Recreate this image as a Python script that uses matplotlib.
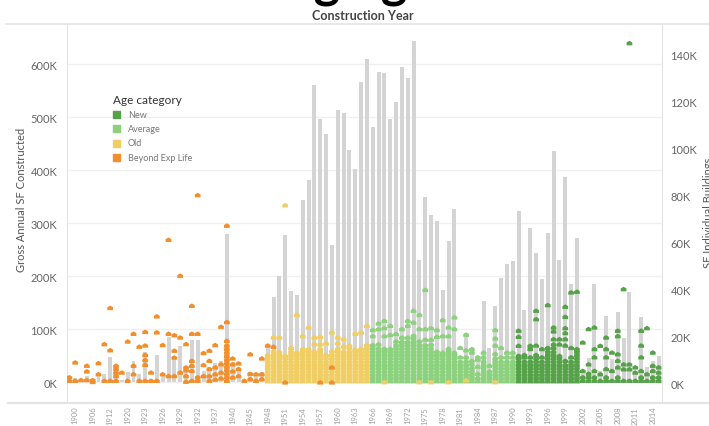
import matplotlib
matplotlib.use('Agg')
import matplotlib.pyplot as plt
from matplotlib.path import Path
from matplotlib.patches import Rectangle
from matplotlib.lines import Line2D
import numpy as np

plt.rcParams['font.family'] = ['Lato', 'DejaVu Sans']

# categorias del eje x (años presentes en los datos)
years = ([1895, 1900, 1902, 1904, 1906, 1908, 1910, 1912, 1915, 1917]
         + list(range(1920, 1933)) + [1934, 1935, 1937, 1938, 1939, 1940, 1941, 1942]
         + list(range(1945, 2016)))

# SF bruto anual construido (miles), eje izquierdo
gross_sf = [8, 7, 5, 12, 4, 15, 15, 47, 28, 4,
            18, 39, 15, 56, 5, 51, 12, 84, 46, 68,
            30, 80, 80, 20, 28, 35, 40, 279, 38, 20,
            5, 18, 16, 18, 69, 160, 200, 277, 172, 164,
            343, 382, 560, 497, 468, 258, 514, 507, 438, 402,
            567, 609, 482, 584, 583, 496, 529, 594, 573, 644,
            230, 350, 316, 304, 174, 267, 326, 15, 92, 62,
            48, 152, 65, 143, 196, 223, 228, 323, 136, 290,
            244, 194, 282, 435, 230, 386, 185, 271, 21, 46,
            184, 21, 125, 43, 133, 83, 170, 21, 123, 28,
            40, 50]

# SF de edificios individuales (miles), eje derecho, una lista por año
building_sf = [
    [1, 2.5], [1, 8.8], [1.3], [1.3, 5, 7.4], [0.5, 1.3],
    [3.8, 8.5], [1, 16.6], [1, 14, 32], [1, 3, 4.5, 6, 7.4], [4.5],
    [1, 17.7], [3.8, 7.4, 21], [1, 15.5], [1, 7.8, 9.8, 12, 16, 21.8], [1, 4.5],
    [1, 21.6, 28.4], [3.8, 16.2], [3, 21, 61], [3, 10.9, 13.8, 20.4], [4.5, 19.4, 45.7],
    [0.6, 3, 5.5, 6.7, 16.6], [1, 5.2, 7.4, 9.5, 21, 32.9], [1, 2.5, 21, 80], [3, 7.7, 12.8],
    [1, 3, 6, 9.5, 13.8], [1.5, 3.8, 6.7, 16.2], [2, 4.5, 8, 24],
    [1, 2.5, 4, 5.5, 7, 8.5, 10, 11.5, 13, 14.5, 16, 18, 26, 67],
    [2.4, 5, 8, 10.5], [3, 6, 8.4], [1], [1.7, 4, 12.3], [1, 3.8], [1.7, 3.8, 10.5],
    # 1948 - 1965
    [0.8, 2.2, 3.6, 5, 6.4, 7.8, 9.2, 10.6, 12],
    [0.8, 2.2, 3.6, 5, 6.4, 7.8, 9.2, 10.6, 12, 13.5, 19.5],
    [0.8, 2.2, 3.6, 5, 6.4, 7.8, 9.2, 10.6, 12, 13.2, 19.4],
    [0.8, 2.2, 3.6, 5, 6.4, 7.8, 9.2, 10.6, 11.6, 75.7],
    [0.8, 2.2, 3.6, 5, 6.4, 7.8, 9.2, 10.6, 12, 13.4, 15],
    [0.8, 2.2, 3.6, 5, 6.4, 7.8, 9.2, 10.6, 12, 13, 29],
    [0.8, 2.2, 3.6, 5, 6.4, 7.8, 9.2, 10.6, 12, 13.4, 14.5, 20],
    [0.8, 2.2, 3.6, 5, 6.4, 7.8, 9.2, 10.6, 12, 13.4, 14.5, 23.7],
    [0.8, 2.2, 3.6, 5, 6.4, 7.8, 9.2, 10.6, 12, 13.4, 16.6, 19.4],
    [0.8, 2.2, 3.6, 5, 6.4, 7.8, 9.2, 10.6, 12, 13.4, 14.5, 16.5, 19.7],
    [0.8, 2.2, 3.6, 5, 6.4, 7.8, 9.2, 10.6, 12, 16.9],
    [0.8, 2.2, 3.6, 5, 6.4, 7.8, 9.2, 10.6, 12, 13.6, 21.6],
    [0.8, 2.2, 3.6, 5, 6.4, 7.8, 9.2, 10.6, 12, 13.4, 14.6, 17, 19.4],
    [0.8, 2.2, 3.6, 5, 6.4, 7.8, 9.2, 10.6, 12, 13.4, 15.6, 18.7],
    [0.8, 2.2, 3.6, 5, 6.4, 7.8, 9.2, 10.6, 12, 13.4, 15, 16],
    [0.8, 2.2, 3.6, 5, 6.4, 7.8, 9.2, 10.6, 12, 13.4, 14.2, 21],
    [0.8, 2.2, 3.6, 5, 6.4, 7.8, 9.2, 10.6, 12, 13.4, 14.6, 21.6],
    [0.8, 2.2, 3.6, 5, 6.4, 7.8, 9.2, 10.6, 12, 13.4, 14.8, 16.2, 24.4],
    # 1966 - 1990
    [0.8, 2.2, 3.6, 5, 6.4, 7.8, 9.2, 10.6, 12, 13.4, 14.8, 16.2, 20, 22.6],
    [0.8, 2.2, 3.6, 5, 6.4, 7.8, 9.2, 10.6, 12, 13.4, 14.8, 16.5, 23, 25.4],
    [0.8, 2.2, 3.6, 5, 6.4, 7.8, 9.2, 10.6, 12, 13.4, 14.6, 20, 23.4, 26.5],
    [0.8, 2.2, 3.6, 5, 6.4, 7.8, 9.2, 10.6, 12, 13.4, 14.6, 20.5, 24.4],
    [0.8, 2.2, 3.6, 5, 6.4, 7.8, 9.2, 10.6, 12, 13.4, 14.8, 16.2, 17.8, 20.9],
    [0.8, 2.2, 3.6, 5, 6.4, 7.8, 9.2, 10.6, 12, 13.4, 14.8, 16.2, 17.6, 19.4, 23],
    [0.8, 2.2, 3.6, 5, 6.4, 7.8, 9.2, 10.6, 12, 13.4, 14.8, 16.2, 17.6, 19.4, 24.4, 26.5],
    [0.8, 2.2, 3.6, 5, 6.4, 7.8, 9.2, 10.6, 12, 13.4, 14.8, 16.2, 17.6, 19, 20.2, 25.8, 30.8],
    [0.8, 2.2, 3.6, 5, 6.4, 7.8, 9.2, 10.6, 12, 13.4, 14.8, 16.2, 17.8, 23, 29],
    [0.8, 2.2, 3.6, 5, 6.4, 7.8, 9.2, 10.6, 12, 13.4, 14.8, 16.2, 18.5, 23, 39.7],
    [0.8, 2.2, 3.6, 5, 6.4, 7.8, 9.2, 10.6, 12, 13.4, 14.8, 16.4, 18.5, 23.4],
    [0.8, 2.2, 3.6, 5, 6.4, 7.8, 9.2, 10.6, 12, 13.4, 19.7, 22.6],
    [0.8, 2.2, 3.6, 5, 6.4, 7.8, 9.2, 10.6, 12, 13, 20, 26.8],
    [0.8, 2.2, 3.6, 5, 6.4, 7.8, 9.2, 10.6, 12, 13.4, 14.6, 20, 23.7],
    [0.8, 2.2, 3.6, 5, 6.4, 7.8, 9.2, 10.6, 12, 13, 23, 28],
    [0.8, 2.2, 3.6, 5, 6.4, 7.8, 9.2, 11, 15],
    [0.8, 2.2, 3.6, 5, 6.4, 7.8, 9.2, 11, 14, 20.6],
    [0.8, 2.2, 3.6, 5, 6.4, 8, 9.5, 13, 14.5],
    [0.8, 2.2, 4, 7, 10, 11],
    [0.8, 2.2, 3.6, 5, 6.4, 7.8, 9.2, 11, 13],
    [0.8, 2.2, 3.6, 5, 7.4],
    [0.8, 2.2, 3.6, 5, 6.4, 7.8, 9.2, 10.6, 12.5, 16, 19, 22.6],
    [0.8, 2.2, 3.6, 5, 6.4, 7.8, 9.2, 11, 15],
    [0.8, 2.2, 3.6, 5, 6.4, 7.8, 9.2, 11, 13],
    [0.8, 2.2, 3.6, 5, 6.4, 7.8, 9.2, 11, 13],
    # 1991 - 2015
    [0.8, 2.2, 3.6, 5, 6.4, 7.8, 9.2, 10.6, 11.6, 15.9, 19.7, 22.3],
    [0.8, 2.2, 3.6, 5, 6.4, 7.8, 9.2, 11, 12],
    [0.8, 2.2, 3.6, 5, 6.4, 7.8, 9.2, 11, 14.5, 15.9],
    [0.8, 2.2, 3.6, 5, 6.4, 7.8, 9.2, 10.6, 12, 16, 27.2, 30.8],
    [0.8, 2.2, 3.6, 5, 6.4, 7.8, 9.2, 11, 14.5],
    [0.8, 2.2, 3.6, 5, 6.4, 7.8, 9.2, 10.6, 12, 13.4, 15, 33.2],
    [0.8, 2.2, 3.6, 5, 6.4, 7.8, 9.2, 10.6, 12, 13.4, 15, 16.5, 18.7, 22, 23.7],
    [0.8, 2.2, 3.6, 5, 6.4, 7.8, 9.2, 10.6, 11.6, 16.5, 18.7],
    [0.8, 2.2, 3.6, 5, 6.4, 7.8, 9.5, 16, 18.7, 21.3, 23.4, 28.2, 32.5],
    [0.8, 2.2, 3.6, 5, 6.4, 7.8, 9.2, 11, 15, 38.6],
    [0.8, 2.2, 3.6, 5, 6.4, 7.8, 9.2, 10.6, 12, 13.4, 14.5, 38.9],
    [1, 2.5, 5.2, 17.3], [1, 2.5, 4, 8, 23], [1, 2.5, 5.2, 11, 14.5, 23.7],
    [1, 3.8, 15.9], [1, 2.5, 6, 11, 14.5, 19.4], [1, 5.2, 13],
    [1, 2.5, 6.7, 9.5, 12.3, 20, 22.3], [1, 5.9, 8, 40], [1, 5.9, 8, 144.7],
    [1, 4.5, 6.7], [1, 2.5, 5.2, 11, 16, 22.3], [1, 3.8, 23.4],
    [1, 2.5, 5.2, 7.4, 13], [1, 2.5, 4.5, 6.7],
]

# edificios cuya categoria no coincide con la de su año
mixed_years = [1948, 1949, 1951, 1957, 1959, 1959, 1968, 1974, 1976, 1979, 1982, 1987]
mixed_sf = [16, 15.5, 0.3, 0.3, 0.3, 6.7, 0.4, 0.4, 0.4, 0.4, 1.2, 0.4]
mixed_cat = ['Beyond Exp Life'] * 6 + ['Old'] * 6

categories = ['New', 'Average', 'Old', 'Beyond Exp Life']
colors = {'New': '#55a249', 'Average': '#8cd17d', 'Old': '#f1ce63',
          'Beyond Exp Life': '#f28e2b'}


def age_category(y):
    if y <= 1947:
        return 'Beyond Exp Life'
    if y <= 1965:
        return 'Old'
    if y <= 1990:
        return 'Average'
    return 'New'


# marcador con forma de casita
house = Path([(-1, -0.8), (1, -0.8), (1, 0.2), (0, 0.8), (-1, 0.2), (-1, -0.8)],
             [Path.MOVETO, Path.LINETO, Path.LINETO, Path.LINETO, Path.LINETO, Path.CLOSEPOLY])

W, H = 709, 427
fig = plt.figure(figsize=(W / 100, H / 100), dpi=100)
ax = fig.add_axes([67 / W, 1 - 404 / H, 595 / W, 379 / H])
ax2 = ax.twinx()

x = np.arange(len(years))
ax.bar(x, gross_sf, width=0.68, color='#d4d4d4', zorder=2)

px, py, pc = [], [], []
for i, (yr, vals) in enumerate(zip(years, building_sf)):
    for v in vals:
        px.append(i)
        py.append(v)
        pc.append(colors[age_category(yr)])
for yr, v, c in zip(mixed_years, mixed_sf, mixed_cat):
    px.append(years.index(yr))
    py.append(v)
    pc.append(colors[c])
ax2.scatter(px, py, s=17, marker=house, c=pc, linewidths=0, zorder=3)

# ejes
ax.set_xlim(-0.4, 101.58)
ax.set_ylim(-39.6, 675.5)
ax2.set_ylim(-8.5, 152.8)

ax.set_yticks(range(0, 700, 100))
ax.set_yticklabels([f'{v}K' for v in range(0, 700, 100)])
ax2.set_yticks(range(0, 160, 20))
ax2.set_yticklabels([f'{v}K' for v in range(0, 160, 20)])
ax.set_xticks(x[1::3])
ax.set_xticklabels([str(years[i]) for i in x[1::3]], rotation=90)

ax.tick_params(axis='y', length=0, labelsize=8, labelcolor='#666666', pad=7)
ax2.tick_params(axis='y', length=0, labelsize=8, labelcolor='#666666', pad=6)
ax.tick_params(axis='x', length=0, labelsize=5.5, labelcolor='#a0a0a0', pad=2)

ax.yaxis.grid(True, color='#f0f0f0', lw=1)
ax.set_axisbelow(True)
for a in (ax, ax2):
    for s in ('top', 'bottom'):
        a.spines[s].set_visible(False)
    a.spines['left'].set_color('#e3e3e3')
    a.spines['right'].set_color('#e3e3e3')
ax2.spines['left'].set_visible(False)
ax.spines['right'].set_visible(False)

# lineas de separacion tipo tableau
fig.add_artist(Line2D([6 / W, 1], [1 - 24.5 / H, 1 - 24.5 / H], color='#e8e8e8', lw=1.5))
fig.add_artist(Line2D([8 / W, 1], [1 - 404 / H, 1 - 404 / H], color='#e3e3e3', lw=1.5))

# textos
fig.text(343 / W, 1 + 2 / H, 'Aging', fontsize=36, fontweight='bold', ha='center',
         va='baseline', color='black')
fig.text(363 / W, 1 - 16 / H, 'Construction Year', fontsize=9, fontweight='bold',
         color='#444444', ha='center', va='center')
fig.text(22 / W, 1 - 200 / H, 'Gross Annual SF Constructed', fontsize=8, color='#555555',
         rotation=90, ha='center', va='center')
fig.text(709 / W, 1 - 213 / H, 'SF Individual Buildings', fontsize=8, color='#555555',
         rotation=90, ha='center', va='center')

# leyenda
fig.text(113 / W, 1 - 100 / H, 'Age category', fontsize=8.5, color='#333333',
         ha='left', va='center')
for k, cat in enumerate(categories):
    yc = 115 + k * 14.5
    fig.add_artist(Rectangle((113 / W, 1 - (yc + 3.5) / H), 7 / W, 7 / H,
                             color=colors[cat], transform=fig.transFigure))
    fig.text(128 / W, 1 - yc / H, cat, fontsize=6.5, color='#777777',
             ha='left', va='center')

fig.savefig('out.png', dpi=100)
